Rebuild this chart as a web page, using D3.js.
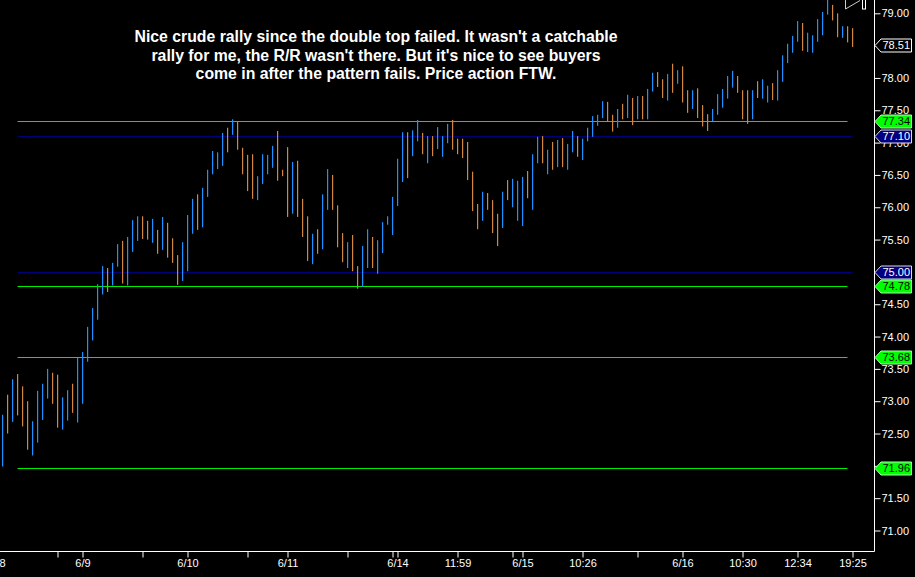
<!DOCTYPE html>
<html><head><meta charset="utf-8">
<script src="https://cdn.jsdelivr.net/npm/d3@7"></script>
<style>html,body{margin:0;padding:0;background:#000;overflow:hidden}svg{display:block}</style>
</head><body>
<svg id="c" width="915" height="577"></svg>
<script>
// ---- data ----
const highs = [72.79,73.10,73.34,73.42,73.23,73.00,72.69,73.16,73.27,73.50,
73.44,73.41,73.06,73.17,73.27,73.67,73.76,74.15,74.44,74.81,
75.09,75.06,75.14,75.43,75.48,75.54,75.80,75.86,75.86,75.79,
75.82,75.65,75.85,75.76,75.52,75.26,75.46,75.88,76.13,76.20,
76.30,76.58,76.87,76.85,77.15,77.23,77.36,77.32,76.92,76.81,
76.82,76.48,76.82,76.81,76.95,77.18,76.58,76.93,76.70,76.72,
76.13,75.86,75.59,75.66,76.20,76.59,76.50,76.03,75.60,75.46,
75.57,75.09,75.40,75.66,75.54,75.49,75.77,75.86,76.16,76.75,
77.16,77.16,77.19,77.35,77.15,77.10,77.10,77.24,77.10,77.29,
77.35,77.06,77.06,77.01,76.55,76.05,76.24,76.22,76.11,75.90,
76.24,76.42,76.44,76.41,76.47,76.56,76.82,77.09,77.10,76.89,
77.01,77.04,77.07,76.98,77.18,77.10,77.06,77.23,77.41,77.43,
77.64,77.63,77.43,77.52,77.60,77.74,77.69,77.72,77.72,77.83,
78.08,78.09,77.98,78.06,78.22,78.12,78.18,77.81,77.81,77.84,
77.58,77.44,77.52,77.75,77.83,78.03,78.11,78.03,77.81,77.81,
77.81,77.95,77.98,77.88,77.92,78.12,78.35,78.53,78.65,78.88,
78.85,78.70,78.66,78.91,79.02,79.21,79.13,79.00,78.80,78.80,
78.77];
const lows = [71.99,72.50,72.68,72.78,72.61,72.25,72.16,72.36,72.71,73.04,
72.96,72.59,72.56,72.70,72.82,72.67,72.96,73.61,73.94,74.26,
74.65,74.69,74.79,75.08,74.82,74.79,75.31,75.48,75.51,75.50,
75.45,75.28,75.34,75.22,75.14,74.80,74.86,75.01,75.59,75.65,
75.69,76.16,76.51,76.59,76.64,76.85,77.12,76.89,76.51,76.25,
76.13,76.11,76.36,76.51,76.61,76.41,76.48,75.85,75.90,75.85,
75.54,75.17,75.12,75.28,75.35,75.96,75.96,75.38,75.15,75.06,
75.01,74.74,74.77,75.06,75.06,74.97,75.29,75.73,75.57,76.02,
76.39,76.45,76.79,77.02,76.82,76.68,76.79,76.90,76.78,76.99,
76.89,76.82,76.76,76.42,75.94,75.66,75.79,75.96,75.60,75.40,
75.68,76.11,76.00,75.79,75.71,76.14,75.96,76.68,76.68,76.51,
76.58,76.62,76.62,76.58,76.85,76.78,76.73,77.02,77.09,77.26,
77.38,77.33,77.17,77.23,77.36,77.38,77.27,77.36,77.36,77.36,
77.79,77.86,77.69,77.65,77.77,77.91,77.62,77.46,77.52,77.38,
77.25,77.18,77.33,77.43,77.54,77.68,77.85,77.77,77.36,77.29,
77.36,77.69,77.68,77.62,77.66,77.65,77.94,78.23,78.39,78.56,
78.42,78.40,78.39,78.56,78.66,78.98,78.89,78.63,78.62,78.55,
78.48];
const ups = [1,0,1,0,0,0,1,1,1,1,
0,0,1,1,0,1,1,1,1,1,
1,0,1,1,0,1,1,1,0,0,
1,0,1,0,0,0,1,1,1,0,
1,1,1,1,1,0,1,0,0,0,
0,1,1,1,1,0,0,0,1,0,
0,0,1,0,1,1,0,0,0,1,
0,0,1,1,0,1,1,1,1,1,
1,0,1,1,0,1,0,1,1,1,
0,0,0,0,0,0,1,0,0,0,
1,0,1,1,1,0,1,1,0,1,
0,1,0,1,1,0,1,1,1,1,
1,0,0,1,0,1,0,1,0,1,
1,0,0,1,0,1,0,0,1,0,
0,0,1,1,1,1,1,0,0,0,
1,0,1,1,0,1,1,1,1,1,
0,1,1,1,1,1,0,0,1,0,
0];
const greenLevels = [77.34, 74.78, 73.68, 71.96];
const navyLevels = [77.10, 75.00];
const lastPrice = 78.51;
const yTickValues = [71.0,71.5,72.0,72.5,73.0,73.5,74.0,74.5,75.0,75.5,76.0,76.5,77.0,77.5,78.0,78.5,79.0];
const xLabelIdx = [-1,16,37,57,79,91,104,116,136,148,159,170];
const xLabels = ["6/8","6/9","6/10","6/11","6/14","11:59","6/15","10:26","6/16","10:30","12:34","19:25"];
const xMinorIdx = [11,28,49,69,78,102,127];
const noteLines = ["Nice crude rally since the double top failed. It wasn't a catchable",
  "rally for me, the R/R wasn't there. But it's nice to see buyers",
  "come in after the pattern fails. Price action FTW."];

// ---- drawing ----
const svg = d3.select("#c");
const W = 915, H = 577;
const axisX = 874.5, axisY = 551.5;
const FONT = "'Liberation Sans', Arial, sans-serif";
const BLUE = "#1e90ff", ORANGE = "#d2873e", GREEN = "#00ee00", NAVY = "#000078";

svg.append("rect").attr("width", W).attr("height", H).attr("fill", "#000");

const x = d3.scaleLinear().domain([0, 170]).range([2.5, 852.5]);
const y = d3.scaleLinear().domain([71, 79]).range([530.5, 13.3]);

svg.append("defs").append("clipPath").attr("id", "plot")
  .append("rect").attr("x", 0).attr("y", 0).attr("width", axisX).attr("height", axisY);

const plot = svg.append("g").attr("clip-path", "url(#plot)");

// level lines
plot.selectAll("line.nv").data(navyLevels).join("line").attr("class", "nv")
  .attr("x1", x(3)).attr("x2", x(170))
  .attr("y1", d => Math.round(y(d)) + 0.5).attr("y2", d => Math.round(y(d)) + 0.5)
  .attr("stroke", NAVY).attr("stroke-width", 1);
plot.selectAll("line.gr").data(greenLevels).join("line").attr("class", "gr")
  .attr("x1", x(3)).attr("x2", x(169))
  .attr("y1", d => Math.round(y(d)) + 0.5).attr("y2", d => Math.round(y(d)) + 0.5)
  .attr("stroke", GREEN).attr("stroke-width", 1);

// bars
const bars = highs.map((h, i) => ({i, h, l: lows[i], up: ups[i]}));
plot.selectAll("rect.bar").data(bars).join("rect").attr("class", "bar")
  .attr("x", d => x(d.i) - 0.5)
  .attr("width", 1.2)
  .attr("y", d => y(d.h))
  .attr("height", d => Math.max(1, y(d.l) - y(d.h)))
  .attr("fill", d => d.up ? BLUE : ORANGE);

// annotation
svg.append("text").attr("x", 376).attr("y", 42)
  .attr("text-anchor", "middle").attr("fill", "#fff")
  .style("font-family", FONT).style("font-weight", "bold").style("font-size", "15.8px")
  .selectAll("tspan").data(noteLines).join("tspan")
  .attr("x", 376).attr("dy", (d, i) => i === 0 ? 0 : 18.7).text(d => d);

// top-right marker
svg.append("path").attr("d", "M845.5,0 L845.5,9 L860,0.5").attr("fill", "none")
  .attr("stroke", "#ccc").attr("stroke-width", 1);
svg.append("rect").attr("x", 862.5).attr("y", -1).attr("width", 3).attr("height", 10)
  .attr("fill", "none").attr("stroke", "#fff").attr("stroke-width", 1);

// right axis
const yAxis = d3.axisRight(y).tickValues(yTickValues).tickSize(6).tickPadding(1)
  .tickFormat(d3.format(".2f"));
const gy = svg.append("g").attr("transform", `translate(${axisX},0)`).call(yAxis);
gy.select(".domain").remove();
gy.selectAll("line").attr("stroke", "#fff");
gy.selectAll("text").attr("fill", "#fff").style("font-family", FONT).style("font-size", "11px");

// bottom axis
const xAxis = d3.axisBottom(x).tickValues(xLabelIdx).tickSize(6).tickPadding(2)
  .tickFormat((d, i) => xLabels[i]);
const gx = svg.append("g").attr("transform", `translate(0,${axisY})`).call(xAxis);
gx.select(".domain").remove();
gx.selectAll("line").attr("stroke", "#fff");
gx.selectAll("text").attr("fill", "#fff").style("font-family", FONT).style("font-size", "11px");
const gx2 = svg.append("g").attr("transform", `translate(0,${axisY})`)
  .call(d3.axisBottom(x).tickValues(xMinorIdx).tickSize(6).tickFormat(""));
gx2.select(".domain").remove();
gx2.selectAll("line").attr("stroke", "#fff");

// axis lines
svg.append("line").attr("x1", axisX).attr("x2", axisX).attr("y1", 0).attr("y2", axisY)
  .attr("stroke", "#fff");
svg.append("line").attr("x1", 0).attr("x2", axisX).attr("y1", axisY).attr("y2", axisY)
  .attr("stroke", "#fff");

// price tags
function tag(v, fill, stroke, textColor) {
  const cy = Math.round(y(v)) + 0.5;
  const g = svg.append("g");
  g.append("path")
    .attr("d", `M${axisX + 0.5},${cy} L${axisX + 6.5},${cy - 6.5} L911.5,${cy - 6.5} L911.5,${cy + 6.5} L${axisX + 6.5},${cy + 6.5} Z`)
    .attr("fill", fill).attr("stroke", stroke).attr("stroke-width", 1);
  g.append("text").attr("x", 882.5).attr("y", cy).attr("dy", "0.36em")
    .attr("fill", textColor).style("font-family", FONT).style("font-size", "11px")
    .text(d3.format(".2f")(v));
}
tag(lastPrice, "#000", "#fff", "#fff");
navyLevels.forEach(v => tag(v, "#000080", "#ddd", "#fff"));
greenLevels.forEach(v => tag(v, "#00ff00", "#aaffaa", "#000"));
</script>
</body></html>
